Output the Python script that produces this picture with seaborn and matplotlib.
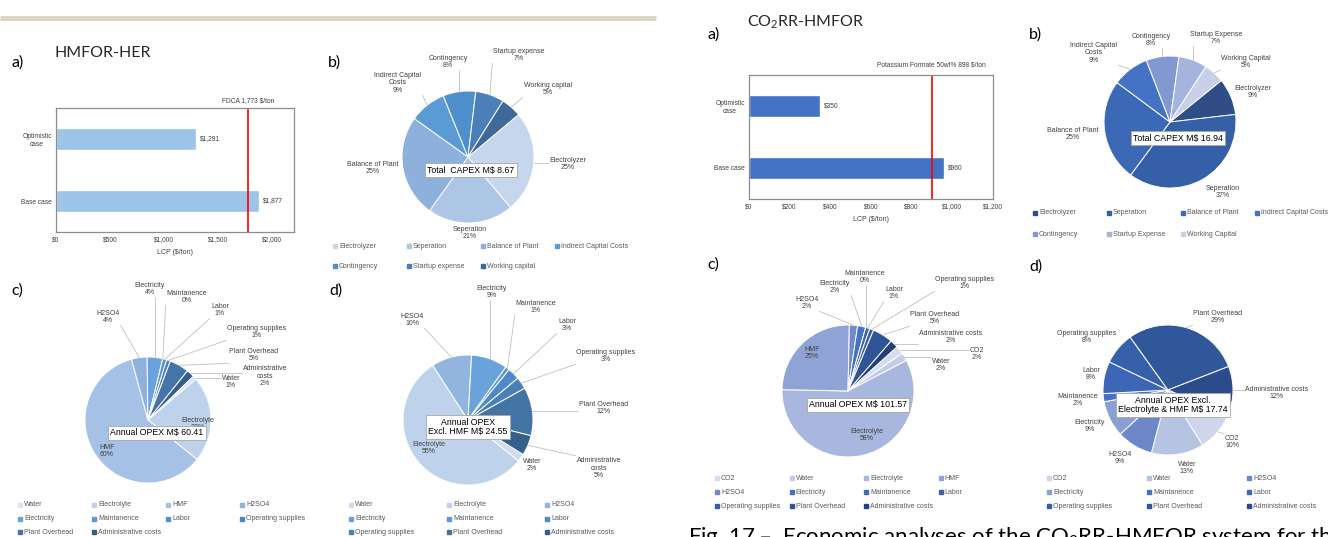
"""
Techno-economic summary figure: HMFOR-HER (left) vs CO2RR-HMFOR (right).
LCP bars against market price, CAPEX split, OPEX split with / without feedstock.
Everything is laid out on a pixel grid so it lines up with the original slide.
"""

import matplotlib
matplotlib.use("Agg")
import matplotlib.pyplot as plt
from matplotlib.ticker import FuncFormatter
import numpy as np
import seaborn as sns

sns.set_theme(style="white")
plt.rcParams["font.family"] = ["Liberation Sans", "DejaVu Sans"]

W, H = 1328, 537

# ── data ─────────────────────────────────────────────────────────────────────
cases = ["Optimistic\ncase", "Base case"]
her_lcp = [1291, 1877]
her_ref = 1773          # FDCA market price, $/ton
rr_lcp = [350, 960]
rr_ref = 898            # potassium formate 50wt%, $/ton

capex_items_her = ["Electrolyzer", "Seperation", "Balance of Plant", "Indirect Capital Costs",
                   "Contingency", "Startup expense", "Working capital"]
capex_her = [25, 21, 25, 9, 8, 7, 5]
capex_total_her = 8.67

opex_items_her = ["Water", "Electrolyte", "HMF", "H2SO4", "Electricity", "Maintanence", "Labor",
                  "Operating supplies", "Plant Overhead", "Administrative costs"]
opex_her = [1, 22, 60, 4, 4, 0, 1, 1, 5, 2]
opex_total_her = 60.41

opex_x_items_her = ["Water", "Electrolyte", "H2SO4", "Electricity", "Maintanence", "Labor",
                    "Operating supplies", "Plant Overhead", "Administrative costs"]
opex_x_her = [2, 55, 10, 9, 1, 3, 3, 12, 5]
opex_x_total_her = 24.55

capex_items_rr = ["Electrolyzer", "Seperation", "Balance of Plant", "Indirect Capital Costs",
                  "Contingency", "Startup Expense", "Working Capital"]
capex_rr = [9, 37, 25, 9, 8, 7, 5]
capex_total_rr = 16.94

opex_items_rr = ["CO2", "Water", "Electrolyte", "HMF", "H2SO4", "Electricity", "Maintanence", "Labor",
                 "Operating supplies", "Plant Overhead", "Administrative costs"]
opex_rr = [2, 2, 58, 25, 2, 2, 0, 1, 1, 5, 2]
opex_total_rr = 101.57

opex_x_items_rr = ["CO2", "Water", "H2SO4", "Electricity", "Maintanence", "Labor",
                   "Operating supplies", "Plant Overhead", "Administrative costs"]
opex_x_rr = [10, 13, 9, 9, 2, 8, 8, 29, 12]
opex_x_total_rr = 17.74

# ── colours (Excel monochrome blues) ─────────────────────────────────────────
C_CAPEX_HER = ["#c6d6ec", "#adc6e6", "#8eb0dc", "#5b9bd5", "#4f8fcb", "#4a7fb8", "#3d6a99"]
C_OPEX_HER = ["#d9e4f2", "#bed2eb", "#a5c1e5", "#8db2df", "#6aa3dc", "#5b98d4", "#5290cd",
              "#4c84bf", "#4574a8", "#355e8b"]
C_OPEXX_HER = ["#cfdcef", "#bed2eb", "#92b5df", "#6aa2db", "#5e97d2", "#4f8ac7", "#4b7fb7",
               "#4473a6", "#365f8b"]
C_CAPEX_RR = ["#2f4e88", "#3560a8", "#3b69b6", "#4472c4", "#8298d1", "#a5b4dc", "#c7cfe9"]
C_OPEX_RR = ["#d6dcef", "#c3cde9", "#a8b7de", "#8fa3d6", "#6f8bcd", "#4472c4", "#3f6ab8",
             "#3b64ae", "#375ea4", "#2f5597", "#223f7a"]
C_OPEXX_RR = ["#cfd5eb", "#b7c3e3", "#6c88c9", "#8c9fd4", "#4471c3", "#3d67b6", "#3660aa",
              "#31579b", "#2b4c8a"]

TXT = "#404040"
LEG = "#595959"

fig = plt.figure(figsize=(W / 100, H / 100), dpi=100)
fig.patch.set_facecolor("white")

# overlay in pixel coordinates for all free text, leader lines and legends
ov = fig.add_axes([0, 0, 1, 1])
ov.set_xlim(0, W)
ov.set_ylim(H, 0)
ov.axis("off")
ov.set_zorder(10)
ov.patch.set_alpha(0)

pending = []   # (text, edge_x, edge_y, inside) for leader lines


def px_axes(x0, y0, w, h):
    return fig.add_axes([x0 / W, 1 - (y0 + h) / H, w / W, h / H])


def bar_panel(box, vals, ref, ref_label, color, xmax, step, label_gap):
    x0, y0, w, h = box
    ax = px_axes(x0, y0, w, h)
    sns.barplot(x=vals, y=cases, orient="h", color=color, saturation=1, width=0.37, ax=ax)
    ax.set_xlim(0, xmax)
    ax.set_xticks(np.arange(0, xmax + 1, step))
    ax.xaxis.set_major_formatter(FuncFormatter(lambda v, _: f"${v:,.0f}"))
    ax.tick_params(axis="both", labelsize=4.8, labelcolor=TXT, length=0, pad=3)
    for lab in ax.get_yticklabels():
        lab.set_multialignment("center")
    for s in ax.spines.values():
        s.set_color("#8c8c8c")
        s.set_linewidth(0.9)
    ax.bar_label(ax.containers[0], labels=[f"${v:,.0f}" for v in vals],
                 padding=3, fontsize=4.8, color=TXT)
    ax.axvline(ref, color="#ff0000", linewidth=1.2)
    ax.text(ref, 1 + label_gap, ref_label, transform=ax.get_xaxis_transform(),
            ha="center", va="bottom", fontsize=4.8, color=TXT)
    ax.set_xlabel("LCP ($/ton)", fontsize=5, color=TXT, labelpad=4)
    ax.set_ylabel("")
    return ax


def pie_panel(cx, cy, r, values, names, colors, start, label_xy, wrap, box_text, box_xy):
    ax = px_axes(cx - r, cy - r, 2 * r, 2 * r)
    ax.pie(values, colors=colors, startangle=start, counterclock=False,
           wedgeprops=dict(edgecolor="white", linewidth=0.7))
    ax.set_xlim(-1, 1)
    ax.set_ylim(-1, 1)
    total = float(sum(values))
    ang = start
    for v, n, (lx, ly) in zip(values, names, label_xy):
        span = v / total * 360
        mid = np.deg2rad(ang - span / 2)
        ang -= span
        name = "\n".join(n.rsplit(" ", 1)) if n in wrap else n
        t = ov.text(lx, ly, f"{name}\n{v / total * 100:.0f}%", ha="center", va="center",
                    fontsize=5, color=TXT, linespacing=1.15, zorder=3)
        inside = np.hypot(lx - cx, ly - cy) < r
        pending.append((t, cx + r * np.cos(mid), cy - r * np.sin(mid), inside))
    ov.text(*box_xy, box_text, ha="center", va="center", fontsize=6.3, color="black",
            linespacing=1.1, zorder=5,
            bbox=dict(facecolor="white", edgecolor="#a6a6a6", linewidth=0.6,
                      boxstyle="square,pad=0.25"))


def excel_legend(x0, y0, dx, dy, ncol, names, colors):
    for i, (n, c) in enumerate(zip(names, colors)):
        x = x0 + (i % ncol) * dx
        y = y0 + (i // ncol) * dy
        ov.plot(x, y, marker="s", ms=2.2, color=c, ls="none")
        ov.text(x + 4, y, n, fontsize=5, color=LEG, ha="left", va="center")


def panel_letter(x, y, s):
    ov.text(x, y, s, fontsize=11.5, family="Lato", ha="left", va="center", color="black")


# ── decoration ───────────────────────────────────────────────────────────────
ov.plot([0, 656], [18, 18], color="#ddd6c4", linewidth=3.6, solid_capstyle="butt")

# ── left: HMFOR-HER ──────────────────────────────────────────────────────────
panel_letter(11, 63, "a)")
ov.text(54, 53, "HMFOR-HER", fontsize=11.5, family="Lato", ha="left", va="center")
bar_panel((56, 108, 238, 124), her_lcp, her_ref, "FDCA 1,773 $/ton", "#9dc3e6", 2200, 500, 0.03)

panel_letter(328, 63, "b)")
pie_panel(468, 157, 66, capex_her, capex_items_her, C_CAPEX_HER, 40,
          [(568, 164), (470, 233), (373, 168), (398, 83), (448, 62), (519, 55), (548, 89)],
          {"Indirect Capital Costs"}, "Total  CAPEX M$ 8.67", (471, 170))
excel_legend(335, 246, 74, 20, 4, capex_items_her, C_CAPEX_HER)

panel_letter(11, 291, "c)")
pie_panel(148, 420, 63, opex_her, opex_items_her, C_OPEX_HER, 44,
          [(231, 382), (198, 424), (107, 451), (108, 317), (150, 289), (187, 297),
           (220, 310), (257, 332), (254, 355), (265, 376)],
          {"Administrative costs"}, "Annual OPEX M$ 60.41", (157, 433))
excel_legend(20, 505, 74, 13.5, 4, opex_items_her, C_OPEX_HER)

panel_letter(329, 291, "d)")
pie_panel(468, 420, 65, opex_x_her, opex_x_items_her, C_OPEXX_HER, -32,
          [(532, 465), (429, 448), (412, 320), (492, 292), (536, 307), (567, 325),
           (606, 356), (604, 408), (599, 468)],
          {"Administrative costs"}, "Annual OPEX\nExcl. HMF M$ 24.55", (468, 427))
excel_legend(351, 505, 98, 13.5, 3, opex_x_items_her, C_OPEXX_HER)

# ── right: CO2RR-HMFOR ───────────────────────────────────────────────────────
panel_letter(707, 35, "a)")
ov.text(747, 22, r"CO$_\mathregular{2}$RR-HMFOR", fontsize=11.5, family="Lato",
        ha="left", va="center")
ax_rr = bar_panel((749, 75, 244, 124), rr_lcp, rr_ref, "Potassium Formate 50wt% 898 $/ton",
                  "#4472c4", 1200, 200, 0.05)
ax_rr.set_yticks([0.5], minor=True)
ax_rr.tick_params(axis="y", which="minor", length=2, color="#8c8c8c")

panel_letter(1029, 35, "b)")
pie_panel(1170, 122, 66, capex_rr, capex_items_rr, C_CAPEX_RR, 39,
          [(1253, 92), (1223, 192), (1073, 134), (1094, 53), (1151, 40), (1216, 38), (1246, 62)],
          {"Indirect Capital Costs"}, "Total CAPEX M$ 16.94", (1178, 138))
excel_legend(1035, 213, 74, 21, 4, capex_items_rr, C_CAPEX_RR)

panel_letter(707, 265, "c)")
pie_panel(848, 391, 66, opex_rr, opex_items_rr, C_OPEX_RR, 42,
          [(977, 354), (941, 365), (867, 435), (812, 353), (807, 303), (835, 287), (865, 277),
           (894, 293), (965, 283), (935, 318), (951, 337)],
          set(), "Annual OPEX M$ 101.57", (858, 405))
excel_legend(717, 478, 74.5, 14, 4, opex_items_rr, C_OPEX_RR)

panel_letter(1029, 267, "d)")
pie_panel(1168, 390, 65, opex_x_rr, opex_x_items_rr, C_OPEXX_RR, -22,
          [(1232, 442), (1187, 468), (1120, 458), (1090, 426), (1078, 400), (1091, 374),
           (1087, 337), (1218, 317), (1277, 393)],
          set(), "Annual OPEX Excl.\nElectrolyte & HMF M$ 17.74", (1173, 405))
excel_legend(1049, 478, 100, 14, 3, opex_x_items_rr, C_OPEXX_RR)

# slide caption, cut off by the crop of the original
ov.text(688, 525, r"Fig. 17 –  Economic analyses of the CO$_\mathregular{2}$RR-HMFOR system for the",
        fontsize=16, family="Lato", ha="left", va="top", color="black")

# ── leader lines: from slice edge to the nearest side of its label ───────────
fig.canvas.draw()
renderer = fig.canvas.get_renderer()
for t, ex, ey, inside in pending:
    if inside:
        continue
    bb = t.get_window_extent(renderer)
    x0, x1 = bb.x0 - 1, bb.x1 + 1
    ytop, ybot = H - bb.y1 - 1, H - bb.y0 + 1
    px, py = np.clip(ex, x0, x1), np.clip(ey, ytop, ybot)
    if np.hypot(px - ex, py - ey) < 6:
        continue
    ov.plot([ex, px], [ey, py], color="#bfbfbf", linewidth=0.6, zorder=2)

fig.savefig("out.png", dpi=100)
plt.close(fig)
